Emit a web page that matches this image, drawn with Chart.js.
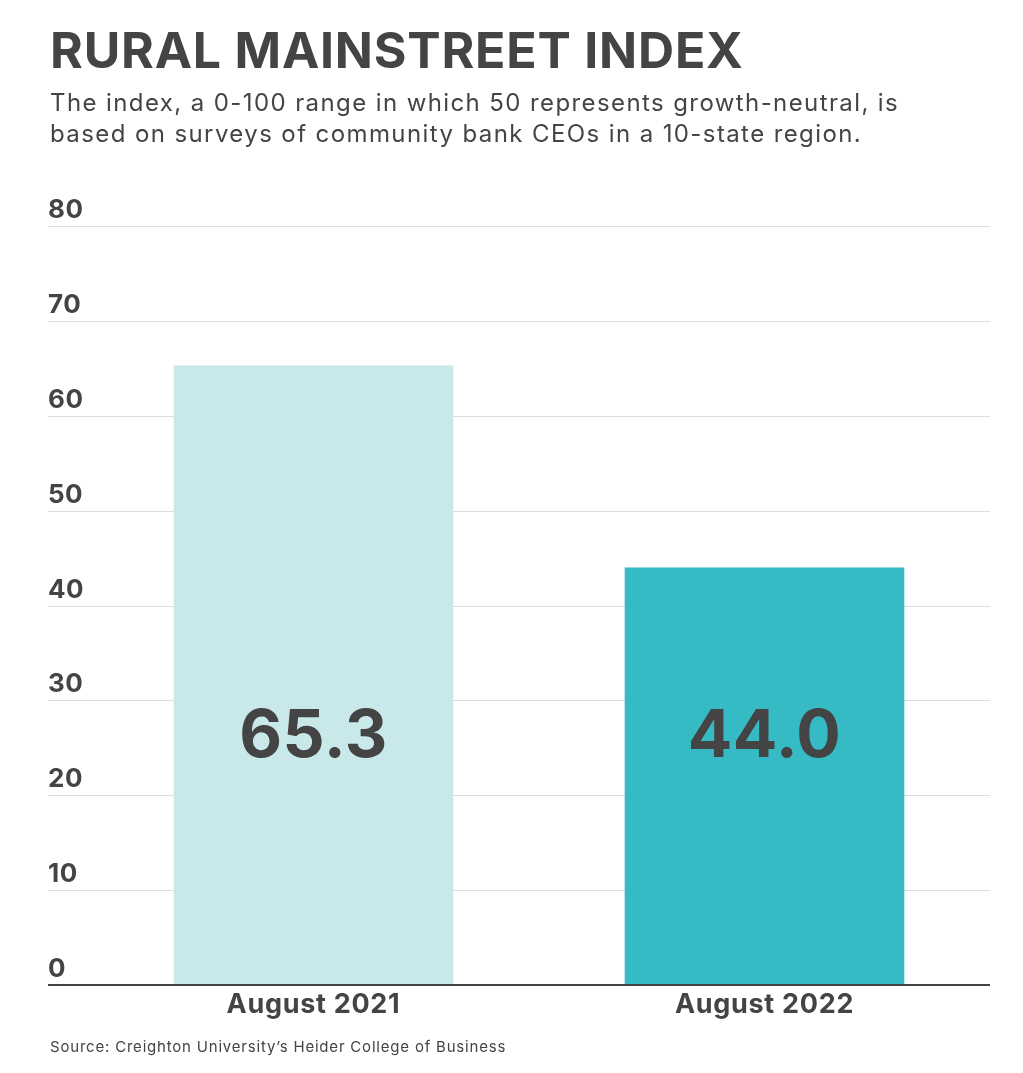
<!DOCTYPE html>
<html>
<head>
<meta charset="utf-8">
<script src="https://cdn.jsdelivr.net/npm/chart.js@4.4.1/dist/chart.umd.min.js"></script>
<style>
  html, body { margin: 0; padding: 0; background: #ffffff; }
  #chart { display: block; }
</style>
</head>
<body>
<canvas id="chart" width="1023" height="1073"></canvas>
<script>
const categories = ["August 2021", "August 2022"];
const indexValues = [65.3, 44.0];
const valueLabels = ["65.3", "44.0"];
const yTicks = [0, 10, 20, 30, 40, 50, 60, 70, 80];
const barColors = ["#c8e8ea", "#36bac4"];

const title = "RURAL MAINSTREET INDEX";
const subtitle = [
  "The index, a 0-100 range in which 50 represents growth-neutral, is",
  "based on surveys of community bank CEOs in a 10-state region."
];
const source = "Source: Creighton University\u2019s Heider College of Business";

const TEXT = "#444444";
const FONT = "Inter, 'Open Sans', sans-serif";

// grid, tick labels, value labels and headings drawn by hand
const decor = {
  id: "decor",
  beforeDatasetsDraw(chart) {
    const { ctx } = chart;
    const y = chart.scales.y;
    ctx.save();
    ctx.strokeStyle = "#dddddd";
    ctx.lineWidth = 1;
    yTicks.forEach(t => {
      if (t === 0) return;
      const py = Math.round(y.getPixelForValue(t)) + 0.5;
      ctx.beginPath();
      ctx.moveTo(48, py);
      ctx.lineTo(990, py);
      ctx.stroke();
    });
    ctx.fillStyle = TEXT;
    ctx.font = "700 26px " + FONT;
    ctx.letterSpacing = "0.5px";
    ctx.textAlign = "left";
    ctx.textBaseline = "alphabetic";
    yTicks.forEach(t => {
      ctx.fillText(String(t), 48, y.getPixelForValue(t) - 8);
    });
    ctx.restore();
  },
  afterDatasetsDraw(chart) {
    const { ctx } = chart;
    const x = chart.scales.x;
    const y = chart.scales.y;
    ctx.save();
    // zero line
    ctx.strokeStyle = "#444444";
    ctx.lineWidth = 2;
    const p0 = y.getPixelForValue(0);
    ctx.beginPath();
    ctx.moveTo(48, p0);
    ctx.lineTo(990, p0);
    ctx.stroke();

    ctx.fillStyle = TEXT;
    ctx.textAlign = "center";
    ctx.textBaseline = "alphabetic";
    ctx.font = "700 66px " + FONT;
    ctx.letterSpacing = "0.5px";
    valueLabels.forEach((lab, i) => {
      ctx.fillText(lab, x.getPixelForValue(i), y.getPixelForValue(24));
    });
    ctx.font = "700 27px " + FONT;
    ctx.letterSpacing = "0.7px";
    categories.forEach((c, i) => {
      ctx.fillText(c, x.getPixelForValue(i), p0 + 28);
    });

    // headings
    ctx.textAlign = "left";
    ctx.font = "700 50px " + FONT;
    ctx.letterSpacing = "0.8px";
    ctx.fillText(title, 50, 68);
    ctx.font = "400 24px " + FONT;
    ctx.letterSpacing = "1.4px";
    ctx.fillText(subtitle[0], 50, 111);
    ctx.fillText(subtitle[1], 50, 142);
    ctx.font = "400 15px " + FONT;
    ctx.letterSpacing = "0.8px";
    ctx.fillText(source, 50, 1052);
    ctx.restore();
  }
};

new Chart(document.getElementById("chart"), {
  type: "bar",
  data: {
    labels: categories,
    datasets: [{
      data: indexValues,
      backgroundColor: barColors,
      borderWidth: 0,
      categoryPercentage: 1,
      barPercentage: 0.62
    }]
  },
  options: {
    responsive: false,
    animation: false,
    layout: { padding: { left: 88, top: 226, right: 33, bottom: 88 } },
    plugins: {
      legend: { display: false },
      tooltip: { enabled: false }
    },
    scales: {
      x: { display: false },
      y: { display: false, min: 0, max: 80 }
    }
  },
  plugins: [decor]
});
</script>
</body>
</html>
